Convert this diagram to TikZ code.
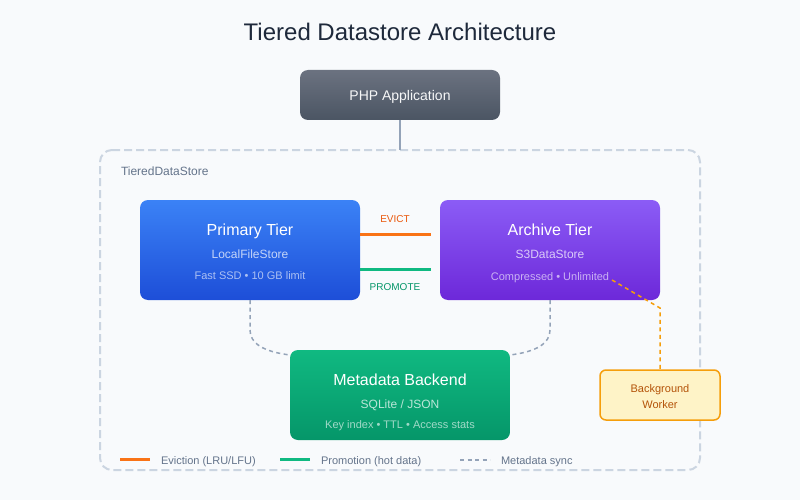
\documentclass[tikz,border=0pt]{standalone}
\usepackage{fontspec}
\setmainfont{Liberation Sans}
\usetikzlibrary{calc}
\definecolor{bgc}{HTML}{F8FAFC}
\definecolor{frame}{HTML}{CBD5E1}
\definecolor{link}{HTML}{94A3B8}
\definecolor{slatetxt}{HTML}{64748B}
\definecolor{titletxt}{HTML}{1E293B}
\definecolor{orangeln}{HTML}{F97316}
\definecolor{orangetx}{HTML}{EA580C}
\definecolor{greenln}{HTML}{10B981}
\definecolor{greentx}{HTML}{059669}
\definecolor{amberln}{HTML}{F59E0B}
\definecolor{amberbg}{HTML}{FEF3C7}
\definecolor{ambertx}{HTML}{B45309}
\definecolor{grayA}{HTML}{6B7280}\definecolor{grayB}{HTML}{4B5563}
\definecolor{blueA}{HTML}{3B82F6}\definecolor{blueB}{HTML}{1D4ED8}
\definecolor{purpA}{HTML}{8B5CF6}\definecolor{purpB}{HTML}{6D28D9}
\definecolor{grenA}{HTML}{10B981}\definecolor{grenB}{HTML}{059669}
\tikzset{
  box/.style={anchor=north west,inner sep=0pt,outer sep=0pt,rounded corners=8pt},
  txt/.style={anchor=base,inner sep=0pt,outer sep=0pt},
  ltxt/.style={anchor=base west,inner sep=0pt,outer sep=0pt},
  fA/.style={font=\fontsize{16}{18}\selectfont,text=white},
  fB/.style={font=\fontsize{12}{14}\selectfont,text=white,text opacity=.72},
  fC/.style={font=\fontsize{11}{13}\selectfont,text=white,text opacity=.62},
  legendt/.style={ltxt,font=\fontsize{11}{13}\selectfont,text=slatetxt},
  syncln/.style={draw=link,line width=1.5pt,dash pattern=on 4pt off 3.5pt},
  evictln/.style={draw=orangeln,line width=3pt},
  promoln/.style={draw=greenln,line width=3pt},
  labl/.style={txt,font=\fontsize{10}{12}\selectfont},
}
\begin{document}
\begin{tikzpicture}[x=1pt,y=-1pt]
\useasboundingbox (0,0) rectangle (800,500);
\fill[bgc] (0,0) rectangle (800,500);
\node[txt,font=\fontsize{24}{28}\selectfont,text=titletxt] (title) at (400,41) {Tiered Datastore Architecture};

\node[box,rounded corners=12pt,minimum width=600pt,minimum height=320pt] (store) at (100,150) {};
\draw[frame,line width=2pt,dash pattern=on 8pt off 4pt,rounded corners=12pt]
  ($(store.north west)+(12,0)$) -- (store.north east) -- (store.south east) -- (store.south west) -- (store.north west) -- ($(store.north west)+(12,0)$);
\node[ltxt,font=\fontsize{12}{14}\selectfont,text=slatetxt] (storelbl) at (121,175) {TieredDataStore};

\node[box,minimum width=200pt,minimum height=50pt,top color=grayA,bottom color=grayB] (php) at (300,70) {};
\node[txt,font=\fontsize{14}{16}\selectfont,text=white,text opacity=.95] (phpt) at (400,101) {PHP Application};
\draw[link,line width=2pt] (php.south) -- (store.north);

\node[box,minimum width=220pt,minimum height=100pt,top color=blueA,bottom color=blueB] (primary) at (140,200) {};
\node[txt,fA] (primaryA) at (250,235) {Primary Tier};
\node[txt,fB] (primaryB) at (250,258) {LocalFileStore};
\node[txt,fC] (primaryC) at (250,279) {Fast SSD • 10 GB limit};

\node[box,minimum width=220pt,minimum height=100pt,top color=purpA,bottom color=purpB] (archive) at (440,200) {};
\node[txt,fA] (archiveA) at (550,235) {Archive Tier};
\node[txt,fB] (archiveB) at (550,258) {S3DataStore};
\node[txt,fC] (archiveC) at (550,280) {Compressed • Unlimited};

\node[box,minimum width=220pt,minimum height=90pt,top color=grenA,bottom color=grenB] (meta) at (290,350) {};
\node[txt,fA] (metaA) at (400,385) {Metadata Backend};
\node[txt,fB] (metaB) at (400,408) {SQLite / JSON};
\node[txt,fC] (metaC) at (400,428) {Key index • TTL • Access stats};

\node[box,rounded corners=6pt,draw=amberln,line width=1.5pt,fill=amberbg,minimum width=120pt,minimum height=50pt] (worker) at (600,370) {};
\node[txt,font=\fontsize{11}{13}\selectfont,text=ambertx] (workerA) at (660,392) {Background};
\node[txt,font=\fontsize{11}{13}\selectfont,text=ambertx] (workerB) at (660,408) {Worker};

\coordinate (evictE) at (431,234);
\coordinate (promoE) at (431,269);
\draw[evictln] (primary.east|-evictE) -- (evictE);
\draw[promoln] (primary.east|-promoE) -- (promoE);
\node[labl,text=orangetx] (evictl) at (395,222) {EVICT};
\node[labl,text=greentx] (promol) at (395,290) {PROMOTE};

\coordinate (mL) at (290,355);
\coordinate (mR) at (510,355);
\draw[syncln] (primary.south) -- (250,330) .. controls (250,343.3) and (263.3,351.7) .. (mL);
\draw[syncln] (archive.south) -- (550,330) .. controls (550,343.3) and (536.7,351.7) .. (mR);

\coordinate (archS) at (612,280);
\draw[draw=amberln,line width=1.5pt,dash pattern=on 4pt off 3.5pt] (archS) -- (660,308) -- (worker.north);

\coordinate (l1a) at (120,459.5);\coordinate (l1b) at (150,459.5);
\coordinate (l2a) at (280,459.5);\coordinate (l2b) at (310,459.5);
\coordinate (l3a) at (460,460);\coordinate (l3b) at (490,460);
\draw[evictln] (l1a) -- (l1b);
\draw[promoln] (l2a) -- (l2b);
\draw[syncln] (l3a) -- (l3b);
\node[legendt] (l1t) at (161,464) {Eviction (LRU/LFU)};
\node[legendt] (l2t) at (321,464) {Promotion (hot data)};
\node[legendt] (l3t) at (501,464) {Metadata sync};
\end{tikzpicture}
\end{document}
